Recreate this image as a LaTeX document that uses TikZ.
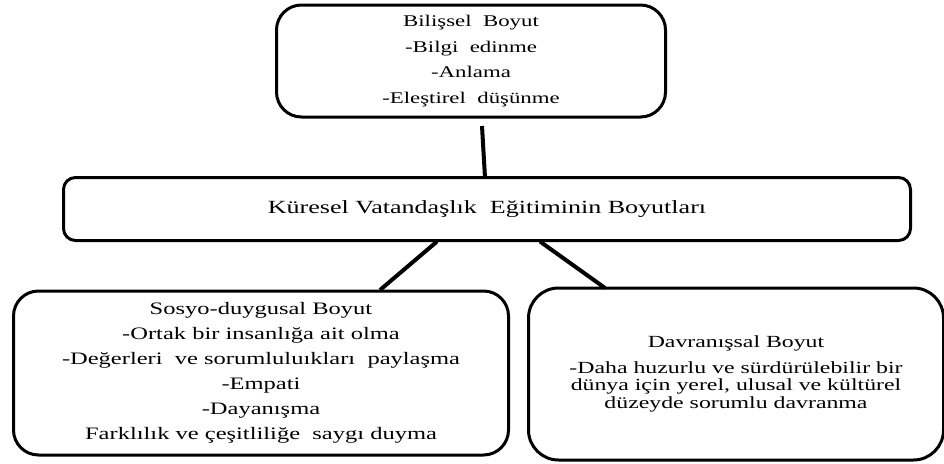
\documentclass[tikz,border=0pt]{standalone}
\usepackage{fontspec}
\setmainfont{Liberation Serif}[FakeStretch=1.4]
\usetikzlibrary{calc}
\tikzset{
  dimbox/.style={draw, line width=3pt, align=center, inner sep=0pt, outer sep=0pt},
  link/.style={line width=4pt}
}
\begin{document}
\begin{tikzpicture}[x=1pt,y=-1pt]
\useasboundingbox (0,0) rectangle (944,463);

% cognitive dimension
\node[dimbox, rounded corners=25pt, minimum width=389pt, minimum height=112pt,
      font=\fontsize{16.3}{25.5}\selectfont] (top) at (471,61)
  {Bilişsel\ \ Boyut\\-Bilgi\ \ edinme\\-Anlama\\-Eleştirel\ \ düşünme};

% central title
\node[dimbox, rounded corners=12pt, minimum width=847pt, minimum height=63pt,
      font=\fontsize{18.6}{22}\selectfont] (mid) at (487,209)
  {Küresel Vatandaşlık\ \ Eğitiminin Boyutları};

% socio-emotional dimension
\node[dimbox, rounded corners=25pt, minimum width=495pt, minimum height=164pt,
      font=\fontsize{17.5}{25}\selectfont] (left) at (261,373)
  {Sosyo-duygusal Boyut\\-Ortak bir insanlığa ait olma\\-Değerleri\ \ ve sorumluluıkları\ \ paylaşma\\-Empati\\-Dayanışma\\Farklılık ve çeşitliliğe\ \ saygı duyma};

% behavioural dimension
\node[dimbox, rounded corners=30pt, minimum width=415pt, minimum height=172pt,
      font=\fontsize{17}{17.5}\selectfont] (right) at (736,374)
  {Davranışsal Boyut\\[8pt]-Daha huzurlu ve sürdürülebilir bir\\dünya için yerel, ulusal ve kültürel\\düzeyde sorumlu davranma};

% connectors
\draw[link] ($(top.south)+(11,9)$) -- ($(mid.north)+(-2,0)$);
\draw[link] ($(mid.south)+(-50,1)$) -- ($(left.north)+(119,-1)$);
\draw[link] ($(mid.south)+(53,1)$) -- ($(right.north)+(-131,0)$);
\end{tikzpicture}
\end{document}
